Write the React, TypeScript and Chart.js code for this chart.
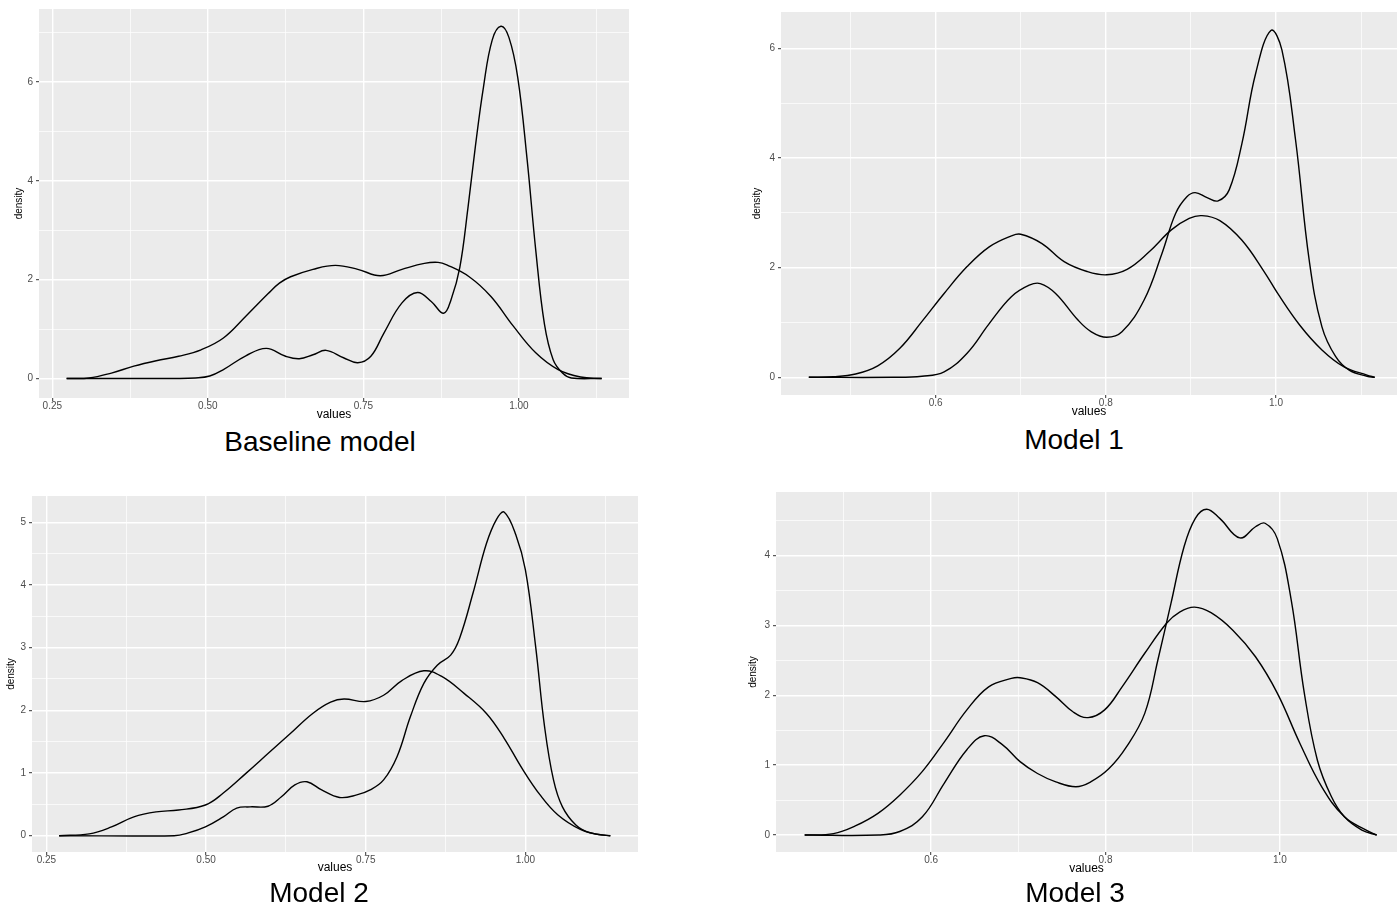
import React, { useEffect, useRef } from 'react';
import { Chart, registerables } from 'chart.js';

Chart.register(...registerables);

// ---------- Data ----------
// Baseline model
const baseWideX = [0.273, 0.309, 0.345, 0.381, 0.417, 0.453, 0.489, 0.525, 0.561, 0.597, 0.615, 0.633, 0.669, 0.705, 0.741, 0.777, 0.812, 0.848, 0.870, 0.884, 0.920, 0.955, 0.991, 1.027, 1.063, 1.099, 1.133];
const baseWideY = [0, 0.01, 0.11, 0.25, 0.36, 0.45, 0.58, 0.82, 1.26, 1.72, 1.93, 2.06, 2.21, 2.29, 2.21, 2.08, 2.21, 2.33, 2.35, 2.30, 2.06, 1.66, 1.06, 0.52, 0.18, 0.03, 0];
const baseSharpX = [0.273, 0.45, 0.48, 0.503, 0.525, 0.561, 0.594, 0.625, 0.647, 0.669, 0.690, 0.718, 0.741, 0.762, 0.783, 0.812, 0.837, 0.859, 0.879, 0.891, 0.905, 0.918, 0.930, 0.943, 0.957, 0.971, 0.984, 0.998, 1.013, 1.027, 1.041, 1.055, 1.070, 1.084, 1.133];
const baseSharpY = [0, 0, 0.01, 0.05, 0.18, 0.46, 0.61, 0.45, 0.40, 0.48, 0.57, 0.42, 0.32, 0.45, 0.92, 1.53, 1.74, 1.56, 1.32, 1.60, 2.25, 3.45, 4.70, 5.90, 6.85, 7.13, 6.90, 6.10, 4.45, 2.60, 1.10, 0.38, 0.11, 0.01, 0];

// Model 1
const m1WideX = [0.451, 0.480, 0.506, 0.532, 0.558, 0.584, 0.610, 0.637, 0.663, 0.689, 0.700, 0.725, 0.751, 0.778, 0.801, 0.825, 0.851, 0.877, 0.898, 0.913, 0.934, 0.960, 0.986, 1.002, 1.028, 1.054, 1.080, 1.107, 1.116];
const m1WideY = [0, 0.01, 0.06, 0.21, 0.53, 1.02, 1.53, 2.02, 2.38, 2.58, 2.61, 2.44, 2.11, 1.93, 1.87, 1.97, 2.29, 2.69, 2.90, 2.95, 2.86, 2.50, 1.93, 1.53, 0.95, 0.50, 0.19, 0.04, 0];
const m1SharpX = [0.451, 0.55, 0.584, 0.610, 0.637, 0.663, 0.689, 0.710, 0.723, 0.741, 0.767, 0.783, 0.801, 0.819, 0.845, 0.866, 0.882, 0.895, 0.905, 0.919, 0.932, 0.945, 0.960, 0.976, 0.994, 1.007, 1.023, 1.039, 1.054, 1.070, 1.086, 1.107, 1.116];
const m1SharpY = [0, 0, 0.02, 0.10, 0.44, 0.98, 1.47, 1.68, 1.71, 1.53, 1.05, 0.83, 0.73, 0.83, 1.41, 2.26, 2.99, 3.29, 3.37, 3.28, 3.22, 3.42, 4.27, 5.54, 6.33, 5.97, 4.33, 2.14, 0.92, 0.38, 0.13, 0.02, 0];

// Model 2
const m2WideX = [0.270, 0.317, 0.352, 0.387, 0.422, 0.457, 0.499, 0.527, 0.562, 0.597, 0.632, 0.667, 0.695, 0.716, 0.750, 0.778, 0.806, 0.841, 0.869, 0.904, 0.939, 0.967, 0.995, 1.023, 1.051, 1.086, 1.114, 1.133];
const m2WideY = [0, 0.03, 0.14, 0.30, 0.38, 0.41, 0.49, 0.68, 0.99, 1.31, 1.63, 1.95, 2.13, 2.18, 2.14, 2.24, 2.47, 2.63, 2.54, 2.27, 1.95, 1.55, 1.07, 0.65, 0.33, 0.10, 0.02, 0];
const m2SharpX = [0.270, 0.45, 0.471, 0.499, 0.527, 0.548, 0.569, 0.597, 0.618, 0.639, 0.658, 0.681, 0.709, 0.736, 0.757, 0.778, 0.799, 0.820, 0.841, 0.862, 0.883, 0.897, 0.918, 0.939, 0.955, 0.967, 0.985, 1.000, 1.016, 1.030, 1.044, 1.058, 1.079, 1.100, 1.133];
const m2SharpY = [0, 0, 0.04, 0.14, 0.30, 0.44, 0.46, 0.47, 0.62, 0.81, 0.86, 0.73, 0.61, 0.65, 0.73, 0.89, 1.26, 1.90, 2.43, 2.72, 2.88, 3.15, 3.87, 4.66, 5.05, 5.16, 4.80, 4.24, 3.02, 1.74, 0.89, 0.46, 0.17, 0.05, 0];

// Model 3
const m3WideX = [0.455, 0.488, 0.513, 0.539, 0.564, 0.590, 0.615, 0.641, 0.666, 0.692, 0.702, 0.722, 0.743, 0.763, 0.780, 0.799, 0.819, 0.845, 0.870, 0.885, 0.902, 0.921, 0.946, 0.972, 0.997, 1.023, 1.048, 1.074, 1.099, 1.111];
const m3WideY = [0, 0.02, 0.13, 0.31, 0.57, 0.91, 1.33, 1.79, 2.12, 2.24, 2.25, 2.18, 1.98, 1.76, 1.68, 1.79, 2.12, 2.60, 3.03, 3.19, 3.26, 3.18, 2.93, 2.55, 2.03, 1.31, 0.69, 0.26, 0.07, 0];
const m3SharpX = [0.455, 0.54, 0.564, 0.590, 0.615, 0.641, 0.661, 0.682, 0.702, 0.722, 0.743, 0.766, 0.783, 0.804, 0.824, 0.845, 0.860, 0.875, 0.890, 0.903, 0.916, 0.931, 0.954, 0.972, 0.983, 0.997, 1.013, 1.028, 1.043, 1.059, 1.074, 1.094, 1.111];
const m3SharpY = [0, 0, 0.05, 0.26, 0.74, 1.22, 1.42, 1.29, 1.05, 0.88, 0.76, 0.69, 0.76, 0.95, 1.26, 1.74, 2.50, 3.31, 4.12, 4.53, 4.66, 4.53, 4.25, 4.41, 4.46, 4.24, 3.36, 2.03, 1.07, 0.55, 0.26, 0.07, 0];

// Tick values and labels
const xMajorWide = [0.25, 0.5, 0.75, 1.0];
const xMinorWide = [0.375, 0.625, 0.875, 1.125];
const xLabelsWide = ['0.25', '0.50', '0.75', '1.00'];
const xMajorNarrow = [0.6, 0.8, 1.0];
const xMinorNarrow = [0.5, 0.7, 0.9, 1.1];
const xLabelsNarrow = ['0.6', '0.8', '1.0'];
const yMajorBase = [0, 2, 4, 6];
const yMinorBase = [1, 3, 5, 7];
const yMajorM1 = [0, 2, 4, 6];
const yMinorM1 = [1, 3, 5];
const yMajorM2 = [0, 1, 2, 3, 4, 5];
const yMinorM2 = [0.5, 1.5, 2.5, 3.5, 4.5];
const yMajorM3 = [0, 1, 2, 3, 4];
const yMinorM3 = [0.5, 1.5, 2.5, 3.5, 4.5];

const titles = ['Baseline model', 'Model 1', 'Model 2', 'Model 3'];

// ---------- Layout ----------
const FONT = '"Liberation Sans", Arial, Helvetica, sans-serif';
const X_AXIS_H = 26;

type PanelCfg = {
  title: string;
  area: { l: number; r: number; t: number; b: number };
  canvasLeft: number;
  xRange: [number, number];
  yRange: [number, number];
  xMajor: number[];
  xMinor: number[];
  xLabels: string[];
  yMajor: number[];
  yMinor: number[];
  curves: [number[], number[]][];
  yTitleX: number;
  valuesDy: number;
  titleX: number;
  titleBaseline: number;
};

const panels: PanelCfg[] = [
  {
    title: titles[0], area: { l: 39, r: 629, t: 9, b: 398 }, canvasLeft: 0,
    xRange: [0.2286, 1.1769], yRange: [-0.395, 7.48],
    xMajor: xMajorWide, xMinor: xMinorWide, xLabels: xLabelsWide,
    yMajor: yMajorBase, yMinor: yMinorBase,
    curves: [[baseWideX, baseWideY], [baseSharpX, baseSharpY]],
    yTitleX: 19, valuesDy: 16.5, titleX: 320, titleBaseline: 452,
  },
  {
    title: titles[1], area: { l: 781, r: 1397, t: 12, b: 395 }, canvasLeft: 741,
    xRange: [0.4183, 1.1422], yRange: [-0.323, 6.666],
    xMajor: xMajorNarrow, xMinor: xMinorNarrow, xLabels: xLabelsNarrow,
    yMajor: yMajorM1, yMinor: yMinorM1,
    curves: [[m1WideX, m1WideY], [m1SharpX, m1SharpY]],
    yTitleX: 757, valuesDy: 16.7, titleX: 1074, titleBaseline: 450,
  },
  {
    title: titles[2], area: { l: 32, r: 638, t: 496, b: 852 }, canvasLeft: 0,
    xRange: [0.2275, 1.1763], yRange: [-0.26, 5.418],
    xMajor: xMajorWide, xMinor: xMinorWide, xLabels: xLabelsWide,
    yMajor: yMajorM2, yMinor: yMinorM2,
    curves: [[m2WideX, m2WideY], [m2SharpX, m2SharpY]],
    yTitleX: 11, valuesDy: 15.6, titleX: 319, titleBaseline: 903,
  },
  {
    title: titles[3], area: { l: 776, r: 1397, t: 492, b: 852 }, canvasLeft: 736,
    xRange: [0.4221, 1.1343], yRange: [-0.243, 4.907],
    xMajor: xMajorNarrow, xMinor: xMinorNarrow, xLabels: xLabelsNarrow,
    yMajor: yMajorM3, yMinor: yMinorM3,
    curves: [[m3WideX, m3WideY], [m3SharpX, m3SharpY]],
    yTitleX: 753.5, valuesDy: 16.5, titleX: 1075, titleBaseline: 903,
  },
];

const panelBg = {
  id: 'panelBg',
  beforeDraw(chart: any) {
    const { ctx, chartArea: a } = chart;
    ctx.save();
    ctx.fillStyle = '#EBEBEB';
    ctx.fillRect(a.left, a.top, a.right - a.left, a.bottom - a.top);
    ctx.restore();
  },
};

const isIn = (v: number, list: number[]) => list.some((m) => Math.abs(m - v) < 1e-9);

function Panel({ p }: { p: PanelCfg }) {
  const ref = useRef<HTMLCanvasElement>(null);
  const width = p.area.r - p.canvasLeft;
  const height = p.area.b + X_AXIS_H - p.area.t;
  const yW = p.area.l - p.canvasLeft;

  useEffect(() => {
    if (!ref.current) return;
    const xTicks = [...p.xMajor, ...p.xMinor].sort((a, b) => a - b);
    const yTicks = [...p.yMajor, ...p.yMinor].sort((a, b) => a - b);
    const xTitleLH = 12 * 1.2;
    const yTitleLH = 10 * 1.2;

    const chart = new Chart(ref.current, {
      type: 'line',
      data: {
        datasets: p.curves.map(([xs, ys]) => ({
          data: xs.map((x, i) => ({ x, y: ys[i] })),
          borderColor: '#000000',
          borderWidth: 1.4,
          pointRadius: 0,
          fill: false,
          tension: 0.4,
        })),
      },
      options: {
        responsive: false,
        animation: false,
        devicePixelRatio: 1,
        layout: { padding: 0 },
        events: [],
        plugins: { legend: { display: false }, tooltip: { enabled: false } },
        scales: {
          x: {
            type: 'linear',
            position: 'bottom',
            min: p.xRange[0],
            max: p.xRange[1],
            afterBuildTicks: (axis: any) => {
              axis.ticks = xTicks.map((v) => ({ value: v }));
            },
            afterFit: (axis: any) => {
              axis.height = X_AXIS_H;
              axis.paddingLeft = 0; axis.paddingRight = 0; axis.paddingTop = 0; axis.paddingBottom = 0;
            },
            ticks: {
              autoSkip: false,
              maxRotation: 0,
              minRotation: 0,
              padding: 0,
              color: '#4D4D4D',
              font: { family: FONT, size: 10, lineHeight: 1 },
              callback: (v: any) => {
                const i = p.xMajor.findIndex((m) => Math.abs(m - v) < 1e-9);
                return i >= 0 ? p.xLabels[i] : '';
              },
            },
            grid: {
              color: '#FFFFFF',
              lineWidth: (ctx: any) => (ctx.tick && isIn(ctx.tick.value, p.xMajor) ? 1.4 : 0.7),
              drawTicks: true,
              tickLength: 3,
              tickWidth: 1,
              tickColor: (ctx: any) => (ctx.tick && isIn(ctx.tick.value, p.xMajor) ? '#333333' : 'rgba(0,0,0,0)'),
            },
            border: { display: false },
            title: {
              display: true,
              text: 'values',
              color: '#000000',
              font: { family: FONT, size: 12, lineHeight: 1.2 },
              padding: { top: 0, bottom: X_AXIS_H - p.valuesDy - xTitleLH / 2 },
            },
          },
          y: {
            type: 'linear',
            position: 'left',
            min: p.yRange[0],
            max: p.yRange[1],
            afterBuildTicks: (axis: any) => {
              axis.ticks = yTicks.map((v) => ({ value: v }));
            },
            afterFit: (axis: any) => {
              axis.width = yW;
              axis.paddingLeft = 0; axis.paddingRight = 0; axis.paddingTop = 0; axis.paddingBottom = 0;
            },
            ticks: {
              autoSkip: false,
              padding: 3,
              color: '#4D4D4D',
              font: { family: FONT, size: 10, lineHeight: 1 },
              callback: (v: any) => (isIn(v, p.yMajor) ? String(v) : ''),
            },
            grid: {
              color: '#FFFFFF',
              lineWidth: (ctx: any) => (ctx.tick && isIn(ctx.tick.value, p.yMajor) ? 1.4 : 0.7),
              drawTicks: true,
              tickLength: 3,
              tickWidth: 1,
              tickColor: (ctx: any) => (ctx.tick && isIn(ctx.tick.value, p.yMajor) ? '#333333' : 'rgba(0,0,0,0)'),
            },
            border: { display: false },
            title: {
              display: true,
              text: 'density',
              color: '#000000',
              font: { family: FONT, size: 10, lineHeight: 1.2 },
              padding: { top: p.yTitleX - p.canvasLeft - yTitleLH / 2, bottom: 0 },
            },
          },
        },
      },
      plugins: [panelBg],
    } as any);
    return () => chart.destroy();
  }, []);

  return (
    <>
      <canvas
        ref={ref}
        width={width}
        height={height}
        style={{ position: 'absolute', left: p.canvasLeft, top: p.area.t, width, height, display: 'block' }}
      />
      <div
        style={{
          position: 'absolute',
          left: p.titleX - 200,
          width: 400,
          top: p.titleBaseline - 23.7,
          height: 28,
          lineHeight: '28px',
          fontSize: 28,
          fontFamily: FONT,
          color: '#000000',
          textAlign: 'center',
          whiteSpace: 'nowrap',
        }}
      >
        {p.title}
      </div>
    </>
  );
}

export default function App() {
  return (
    <div
      style={{
        position: 'absolute',
        left: 0,
        top: 0,
        width: 1397,
        height: 905,
        overflow: 'hidden',
        background: '#FFFFFF',
      }}
    >
      {panels.map((p, i) => (
        <Panel key={i} p={p} />
      ))}
    </div>
  );
}
